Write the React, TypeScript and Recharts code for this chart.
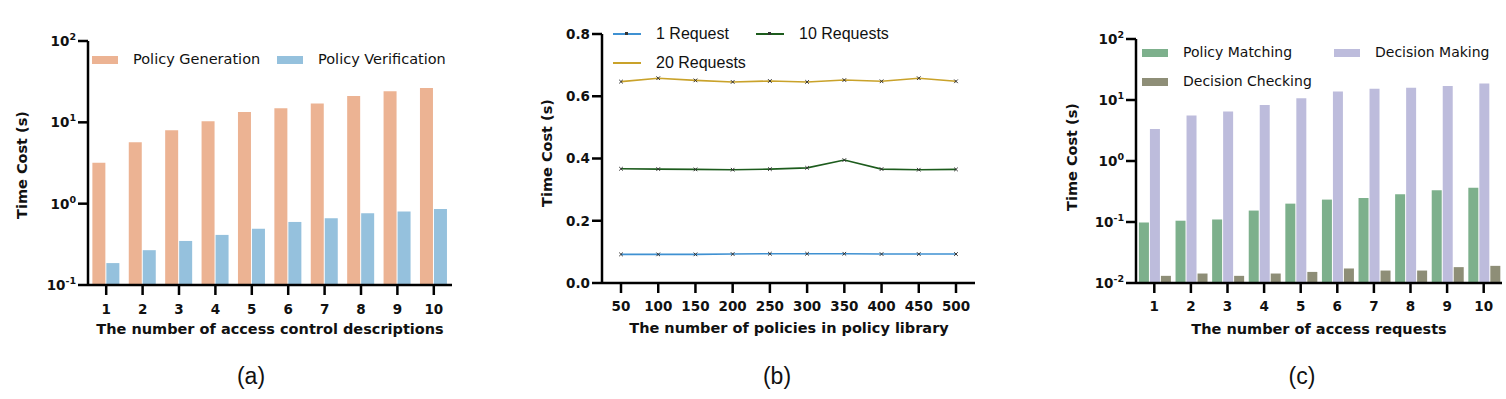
import { BarChart, Bar, ComposedChart, Line, XAxis, YAxis, Legend } from "recharts";

// (a) policy generation / verification
const descriptionCounts = ["1", "2", "3", "4", "5", "6", "7", "8", "9", "10"];
const policyGeneration = [3.18, 5.7, 8.0, 10.3, 13.4, 14.9, 17.1, 21.1, 24.1, 26.5];
const policyVerification = [0.186, 0.268, 0.348, 0.413, 0.493, 0.596, 0.662, 0.762, 0.8, 0.86];

// (b) policy library size
const policyCounts = ["50", "100", "150", "200", "250", "300", "350", "400", "450", "500"];
const oneRequest = [0.092, 0.092, 0.092, 0.093, 0.094, 0.094, 0.094, 0.093, 0.093, 0.093];
const tenRequests = [0.367, 0.366, 0.365, 0.364, 0.366, 0.37, 0.395, 0.366, 0.364, 0.365];
const twentyRequests = [0.647, 0.658, 0.651, 0.646, 0.649, 0.646, 0.652, 0.648, 0.658, 0.648];

// (c) access requests
const requestCounts = ["1", "2", "3", "4", "5", "6", "7", "8", "9", "10"];
const policyMatching = [0.098, 0.105, 0.11, 0.154, 0.2, 0.233, 0.248, 0.285, 0.331, 0.366];
const decisionMaking = [3.34, 5.59, 6.5, 8.26, 10.7, 13.8, 15.3, 15.9, 16.9, 18.7];
const decisionChecking = [0.0131, 0.0143, 0.0131, 0.0143, 0.0152, 0.0173, 0.016, 0.016, 0.0182, 0.0191];

const ticksA = [0.1, 1, 10, 100];
const ticksB = [0, 0.2, 0.4, 0.6, 0.8];
const ticksC = [0.01, 0.1, 1, 10, 100];

const dataA = descriptionCounts.map((x, i) => ({ x, gen: policyGeneration[i], ver: policyVerification[i] }));
const dataB = policyCounts.map((x, i) => ({ x, r1: oneRequest[i], r10: tenRequests[i], r20: twentyRequests[i] }));
const dataC = requestCounts.map((x, i) => ({
  x,
  match: policyMatching[i],
  make: decisionMaking[i],
  check: decisionChecking[i],
}));

const ORANGE = "#ecb393";
const BLUE = "#95c1dd";
const GREEN = "#7db08c";
const PURPLE = "#bdbcdc";
const GREY = "#8e8e77";
const LINE_BLUE = "#3f91d2";
const LINE_GREEN = "#1d5c1d";
const LINE_GOLD = "#c9a22a";

const BOLD = "DejaVu Sans";
const axisLine = { stroke: "#000", strokeWidth: 2.5 };
const tickLine = { stroke: "#000", strokeWidth: 2.5 };
const tickStyle = { fill: "#111", fontSize: 13.5, fontWeight: "bold", fontFamily: BOLD };

const LogTick = (props: any) => {
  const { x, y, payload } = props;
  const exp = Math.round(Math.log10(payload.value));
  return (
    <text x={x} y={y + 5} textAnchor="end" fill="#111" fontSize={13.5} fontWeight="bold" fontFamily={BOLD}>
      10
      <tspan dy={-6} fontSize={9.5}>
        {exp}
      </tspan>
    </text>
  );
};

const cross = (color: string) => (props: any) => {
  const { cx, cy, index } = props;
  return (
    <path
      key={`d${index}`}
      d={`M${cx - 1.8},${cy - 1.8}L${cx + 1.8},${cy + 1.8}M${cx - 1.8},${cy + 1.8}L${cx + 1.8},${cy - 1.8}`}
      stroke="#333"
      strokeWidth={1}
    />
  );
};

type Item = { label: string; color: string; left: number; top: number; kind: "box" | "line"; marker?: boolean };

const legendContent = (items: Item[], font: string, size: number, textGap: number) => () => (
  <div style={{ position: "relative", width: 1, height: 1 }}>
    {items.map((it) => (
      <div key={it.label}>
        {it.kind === "box" ? (
          <div
            style={{
              position: "absolute",
              left: it.left,
              top: it.top - 4,
              width: 26,
              height: 8,
              background: it.color,
            }}
          />
        ) : (
          <div
            style={{
              position: "absolute",
              left: it.left,
              top: it.top - 1,
              width: 28,
              height: 2,
              background: it.color,
            }}
          >
            {it.marker && (
              <div style={{ position: "absolute", left: 12, top: -1, width: 3, height: 3, background: "#333" }} />
            )}
          </div>
        )}
        <div
          style={{
            position: "absolute",
            left: it.left + textGap,
            top: it.top - size * 0.62,
            fontFamily: font,
            fontSize: size,
            whiteSpace: "nowrap",
            color: "#111",
            lineHeight: 1.2,
          }}
        >
          {it.label}
        </div>
      </div>
    ))}
  </div>
);

const legendA: Item[] = [
  { label: "Policy Generation", color: ORANGE, left: 92, top: 60, kind: "box" },
  { label: "Policy Verification", color: BLUE, left: 277, top: 60, kind: "box" },
];
const legendB: Item[] = [
  { label: "1 Request", color: LINE_BLUE, left: 93, top: 34, kind: "line", marker: true },
  { label: "10 Requests", color: LINE_GREEN, left: 236, top: 34, kind: "line", marker: true },
  { label: "20 Requests", color: LINE_GOLD, left: 93, top: 63, kind: "line" },
];
const legendC: Item[] = [
  { label: "Policy Matching", color: GREEN, left: 122, top: 53, kind: "box" },
  { label: "Decision Making", color: PURPLE, left: 314, top: 53, kind: "box" },
  { label: "Decision Checking", color: GREY, left: 122, top: 82, kind: "box" },
];

const legendWrap = { position: "absolute" as const, left: 0, top: 0, width: 1, height: 1 };

const XTitle = ({ cx, y, text }: { cx: number; y: number; text: string }) => (
  <div
    style={{
      position: "absolute",
      left: cx - 250,
      width: 500,
      top: y - 10,
      textAlign: "center",
      fontFamily: BOLD,
      fontWeight: "bold",
      fontSize: 14.5,
      lineHeight: "20px",
      color: "#111",
    }}
  >
    {text}
  </div>
);

const YTitle = ({ cx, cy }: { cx: number; cy: number }) => (
  <div
    style={{
      position: "absolute",
      left: cx,
      top: cy,
      transform: "translate(-50%, -50%) rotate(-90deg)",
      fontFamily: BOLD,
      fontWeight: "bold",
      fontSize: 14.5,
      whiteSpace: "nowrap",
      color: "#111",
    }}
  >
    Time Cost (s)
  </div>
);

const Caption = ({ cx, text }: { cx: number; text: string }) => (
  <div
    style={{
      position: "absolute",
      left: cx - 40,
      width: 80,
      top: 362,
      textAlign: "center",
      fontFamily: "Liberation Sans",
      fontSize: 23,
      lineHeight: "28px",
      color: "#111",
    }}
  >
    {text}
  </div>
);

export default function App() {
  return (
    <div style={{ position: "absolute", left: 0, top: 0, width: 1506, height: 399, background: "#fff", overflow: "hidden" }}>
      <div style={{ position: "absolute", left: 0, top: 0 }}>
        <BarChart width={470} height={345} data={dataA} margin={{ top: 41, right: 18, bottom: 30, left: 28 }} barCategoryGap="12%" barGap={1}>
          <XAxis dataKey="x" height={30} axisLine={axisLine} tickLine={tickLine} tickSize={10} tickMargin={9} tick={tickStyle} />
          <YAxis
            type="number"
            scale="log"
            domain={[0.1, 100]}
            ticks={ticksA}
            width={60}
            axisLine={axisLine}
            tickLine={tickLine}
            tickSize={10}
            tick={<LogTick />}
          />
          <Legend layout="horizontal" verticalAlign="middle" align="center" wrapperStyle={legendWrap} content={legendContent(legendA, "DejaVu Sans", 14.5, 41)} />
          <Bar dataKey="gen" name="Policy Generation" fill={ORANGE} isAnimationActive={false} />
          <Bar dataKey="ver" name="Policy Verification" fill={BLUE} isAnimationActive={false} />
        </BarChart>
      </div>

      <div style={{ position: "absolute", left: 520, top: 0 }}>
        <ComposedChart width={470} height={345} data={dataB} margin={{ top: 34, right: 15, bottom: 32, left: 27 }}>
          <XAxis
            dataKey="x"
            height={30}
            axisLine={axisLine}
            tickLine={tickLine}
            tickSize={10}
            tickMargin={8}
            tick={tickStyle}
            interval={0}
            padding={{ left: 19, right: 19 }}
          />
          <YAxis
            type="number"
            domain={[0, 0.8]}
            ticks={ticksB}
            width={55}
            axisLine={axisLine}
            tickLine={tickLine}
            tickSize={10}
            tick={tickStyle}
            tickFormatter={(v: number) => v.toFixed(1)}
          />
          <Legend layout="horizontal" verticalAlign="middle" align="center" wrapperStyle={legendWrap} content={legendContent(legendB, "Liberation Sans", 16, 43)} />
          <Line dataKey="r1" name="1 Request" stroke={LINE_BLUE} strokeWidth={1.6} dot={cross(LINE_BLUE)} isAnimationActive={false} />
          <Line dataKey="r10" name="10 Requests" stroke={LINE_GREEN} strokeWidth={1.6} dot={cross(LINE_GREEN)} isAnimationActive={false} />
          <Line dataKey="r20" name="20 Requests" stroke={LINE_GOLD} strokeWidth={1.6} dot={cross(LINE_GOLD)} isAnimationActive={false} />
        </ComposedChart>
      </div>

      <div style={{ position: "absolute", left: 1020, top: 0 }}>
        <BarChart width={486} height={345} data={dataC} margin={{ top: 39, right: 4, bottom: 32, left: 56 }} barCategoryGap="8%" barGap={1}>
          <XAxis dataKey="x" height={30} axisLine={axisLine} tickLine={tickLine} tickSize={10} tickMargin={8} tick={tickStyle} />
          <YAxis
            type="number"
            scale="log"
            domain={[0.01, 100]}
            ticks={ticksC}
            width={60}
            axisLine={axisLine}
            tickLine={tickLine}
            tickSize={10}
            tick={<LogTick />}
          />
          <Legend layout="horizontal" verticalAlign="middle" align="center" wrapperStyle={legendWrap} content={legendContent(legendC, "DejaVu Sans", 14, 41)} />
          <Bar dataKey="match" name="Policy Matching" fill={GREEN} isAnimationActive={false} />
          <Bar dataKey="make" name="Decision Making" fill={PURPLE} isAnimationActive={false} />
          <Bar dataKey="check" name="Decision Checking" fill={GREY} isAnimationActive={false} />
        </BarChart>
      </div>

      <YTitle cx={22} cy={165} />
      <YTitle cx={547} cy={153} />
      <YTitle cx={1072} cy={157} />
      <XTitle cx={270} y={329} text="The number of access control descriptions" />
      <XTitle cx={789} y={328} text="The number of policies in policy library" />
      <XTitle cx={1319} y={329} text="The number of access requests" />
      <Caption cx={251} text="(a)" />
      <Caption cx={777} text="(b)" />
      <Caption cx={1302} text="(c)" />
    </div>
  );
}
